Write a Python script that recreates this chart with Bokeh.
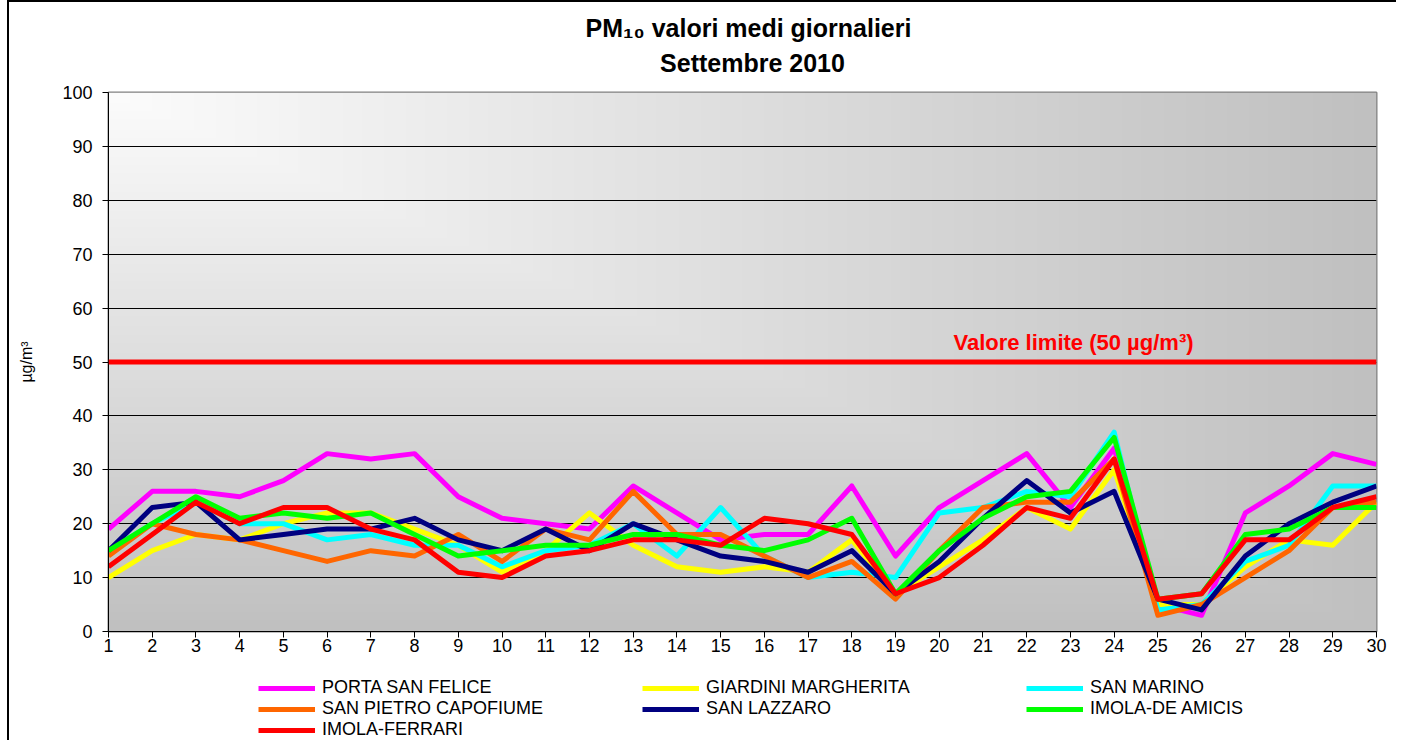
import numpy as np
from bokeh.plotting import figure
from bokeh.layouts import column
from bokeh.models import (Span, Label, Legend, LegendItem, FixedTicker, Range1d)
from bokeh.embed import file_html
from bokeh.resources import INLINE

# ---------------- data ----------------
days = list(range(1, 31))
y_ticks = list(range(0, 101, 10))
LIMIT = 50

porta_san_felice = [19, 26, 26, 25, 28, 33, 32, 33, 25, 21, 20, 19, 27, 22, 17,
                    18, 18, 27, 14, 23, 28, 33, 23, 34, 5, 3, 22, 27, 33, 31]
giardini_margherita = [10, 15, 18, 17, 20, 22, 22, 19, 16, 11, 15, 22, 16, 12, 11,
                       12, 11, 17, 7, 12, 17, 23, 19, 30, 5, 5, 12, 17, 16, 24]
san_marino = [15, 20, 24, 20, 20, 17, 18, 16, 16, 12, 15, 16, 20, 14, 23,
              14, 10, 11, 10, 22, 23, 26, 25, 37, 4, 5, 13, 16, 27, 27]
san_pietro_capofiume = [14, 20, 18, 17, 15, 13, 15, 14, 18, 13, 19, 17, 26, 18, 18,
                        14, 10, 13, 6, 15, 23, 24, 24, 32, 3, 5, 10, 15, 23, 24]
san_lazzaro = [15, 23, 24, 17, 18, 19, 19, 21, 17, 15, 19, 15, 20, 17, 14,
               13, 11, 15, 7, 13, 21, 28, 22, 26, 6, 4, 14, 20, 24, 27]
imola_de_amicis = [15, 20, 25, 21, 22, 21, 22, 18, 14, 15, 16, 16, 18, 18, 16,
                   15, 17, 21, 7, 15, 21, 25, 26, 36, 6, 7, 18, 19, 23, 23]
imola_ferrari = [12, 18, 24, 20, 23, 23, 19, 17, 11, 10, 14, 15, 17, 17, 16,
                 21, 20, 18, 7, 10, 16, 23, 21, 32, 6, 7, 17, 17, 23, 25]

series_names = ["PORTA SAN FELICE", "GIARDINI MARGHERITA", "SAN MARINO",
                "SAN PIETRO CAPOFIUME", "SAN LAZZARO", "IMOLA-DE AMICIS",
                "IMOLA-FERRARI"]
series_values = [porta_san_felice, giardini_margherita, san_marino,
                 san_pietro_capofiume, san_lazzaro, imola_de_amicis, imola_ferrari]
series_colors = ["#ff00ff", "#ffff00", "#00ffff", "#ff6600", "#000080",
                 "#00ff00", "#ff0000"]

title_line1 = "PM₁₀ valori medi giornalieri"
title_line2 = "Settembre 2010"
y_title = "µg/m³"
limit_text = "Valore limite  (50 µg/m³)"

FONT = "Liberation Sans"
W = 1387
FRAME_W = 1268  # frames of the stacked figures are aligned with the chart frame


def bare_figure(h):
    f = figure(width=W, height=h, x_range=Range1d(0, FRAME_W), y_range=Range1d(0, h),
               x_axis_type=None, y_axis_type=None, output_backend="svg",
               toolbar_location=None, min_border=0, title=None)
    f.outline_line_color = None
    f.border_fill_color = "white"
    f.background_fill_color = "white"
    return f


# ---------------- title strip ----------------
TH = 78
ptitle = bare_figure(TH)
ptitle.add_layout(Label(x=640, y=53, text=title_line1, text_align="center",
                        text_baseline="middle", text_font=FONT,
                        text_font_style="bold", text_font_size="25px",
                        text_color="black"))
ptitle.add_layout(Label(x=644, y=18, text=title_line2, text_align="center",
                        text_baseline="middle", text_font=FONT,
                        text_font_style="bold", text_font_size="25px",
                        text_color="black"))

# ---------------- main chart ----------------
p = figure(width=W, height=585, title=None,
           x_range=Range1d(1, 30), y_range=Range1d(0, 100),
           output_backend="svg", toolbar_location=None,
           min_border_left=99, min_border_right=20,
           min_border_top=12, min_border_bottom=34)
p.border_fill_color = "white"
p.outline_line_color = "#808080"
p.outline_line_width = 2

# background "from corner" gradient
ny, nx = 200, 400
xs = np.linspace(0, 1, nx)
ys_top = 1 - np.linspace(0, 1, ny)
t = np.maximum(xs[None, :], ys_top[:, None])
v = np.clip(252 - 60 * t, 0, 255).astype(np.uint8)
img = np.empty((ny, nx), dtype=np.uint32)
view = img.view(dtype=np.uint8).reshape((ny, nx, 4))
view[..., 0] = v
view[..., 1] = v
view[..., 2] = v
view[..., 3] = 255
p.image_rgba(image=[img], x=1, y=0, dw=29, dh=100, level="image")

p.xgrid.visible = False
p.ygrid.ticker = FixedTicker(ticks=y_ticks)
p.ygrid.grid_line_color = "black"
p.ygrid.grid_line_width = 1

p.xaxis.ticker = FixedTicker(ticks=days)
p.yaxis.ticker = FixedTicker(ticks=y_ticks)
for ax in (p.xaxis, p.yaxis):
    ax.major_label_text_font = FONT
    ax.major_label_text_font_size = "18px"
    ax.major_label_text_color = "black"
    ax.axis_line_color = "black"
    ax.axis_line_width = 1
    ax.major_tick_line_color = "black"
    ax.major_tick_in = 0
    ax.major_tick_out = 6
    ax.minor_tick_line_color = None
p.xaxis.major_label_standoff = 1
p.yaxis.major_label_standoff = 10

p.yaxis.axis_label = y_title
p.yaxis.axis_label_text_font = FONT
p.yaxis.axis_label_text_font_size = "16px"
p.yaxis.axis_label_text_font_style = "normal"
p.yaxis.axis_label_text_color = "black"
p.yaxis.axis_label_standoff = 24

p.add_layout(Span(location=LIMIT, dimension="width", line_color="#ff0000",
                  line_width=5))
p.add_layout(Label(x=23.14, y=53.6, text=limit_text,
                   text_align="center", text_baseline="alphabetic",
                   text_font=FONT, text_font_style="bold", text_font_size="22px",
                   text_color="#ff0000"))

for name, vals, col in zip(series_names, series_values, series_colors):
    p.line(days, vals, line_color=col, line_width=5, line_join="round")

# ---------------- legend strip ----------------
LH = 75
pleg = bare_figure(LH)
items = []
for name, col in zip(series_names, series_colors):
    # one undefined point: nothing is drawn, but the legend gets a glyph
    r = pleg.line(x=[np.nan], y=[np.nan], line_color=col, line_width=5)
    items.append(LegendItem(label=name, renderers=[r]))
legend = Legend(items=items, orientation="horizontal", ncols=3,
                location=(150, 0), glyph_width=57, glyph_height=20,
                label_height=20, label_standoff=7, label_width=320,
                spacing=0, padding=0, margin=0,
                border_line_color=None, background_fill_alpha=0,
                label_text_font=FONT, label_text_font_size="18px",
                label_text_color="black")
pleg.add_layout(legend)

layout = column(ptitle, p, pleg, spacing=0)
layout.styles = {"margin-left": "7px", "border-left": "2px solid black",
                 "border-top": "2px solid black"}

open("out.html", "w").write(file_html(layout, INLINE))
